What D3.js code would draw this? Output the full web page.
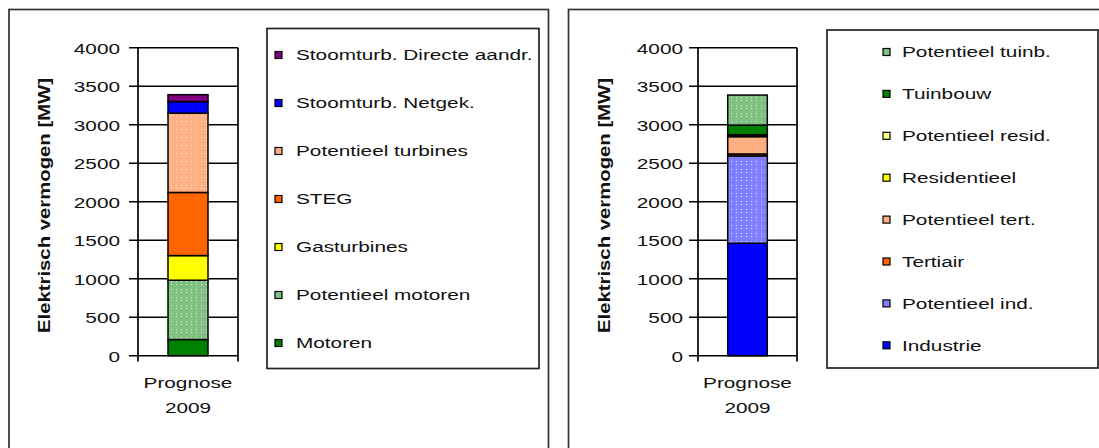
<!DOCTYPE html>
<html>
<head>
<meta charset="utf-8">
<script src="https://cdn.jsdelivr.net/npm/d3@7"></script>
<style>
  html, body { margin: 0; padding: 0; background: #fff; }
  svg { display: block; }
  text { font-family: "Liberation Sans", Arial, sans-serif; fill: #111; }
</style>
</head>
<body>
<svg id="chart" width="1099" height="448"></svg>
<script>
// ---- data ----
const categories = ["Prognose 2009"];
const yTicks = [0, 500, 1000, 1500, 2000, 2500, 3000, 3500, 4000];
const yTitle = "Elektrisch vermogen [MW]";

// left panel: installed capacity per technology (stack order bottom -> top)
const techNames = ["Motoren", "Potentieel motoren", "Gasturbines", "STEG",
                   "Potentieel turbines", "Stoomturb. Netgek.", "Stoomturb. Directe aandr."];
const techValues = [210, 770, 320, 820, 1030, 150, 90];

// right panel: capacity per sector (stack order bottom -> top)
const sectorNames = ["Industrie", "Potentieel ind.", "Tertiair", "Potentieel tert.",
                     "Residentieel", "Potentieel resid.", "Tuinbouw", "Potentieel tuinb."];
const sectorValues = [1460, 1135, 25, 225, 10, 15, 125, 390];

// ---- styling ----
const fills = {
  "Motoren": "#008000",
  "Potentieel motoren": "#80c080",
  "Gasturbines": "#ffff00",
  "STEG": "#ff6600",
  "Potentieel turbines": "#ffb083",
  "Stoomturb. Netgek.": "#0000ff",
  "Stoomturb. Directe aandr.": "#800080",
  "Industrie": "#0000ff",
  "Potentieel ind.": "#8080ff",
  "Tertiair": "#ff6600",
  "Potentieel tert.": "#ffb083",
  "Residentieel": "#ffff00",
  "Potentieel resid.": "#ffff80",
  "Tuinbouw": "#008000",
  "Potentieel tuinb.": "#80c080"
};
const dotted = new Set(["Potentieel motoren", "Potentieel turbines", "Potentieel ind.", "Potentieel tuinb."]);
const SX = 1.34; // horizontal text stretch
const FS = 15.5; // base font size

const svg = d3.select("#chart");
const defs = svg.append("defs");

// dotted fill patterns for the "potential" segments
Object.keys(fills).filter(n => dotted.has(n)).forEach((n, i) => {
  const p = defs.append("pattern")
    .attr("id", "pat" + i)
    .attr("patternUnits", "userSpaceOnUse")
    .attr("width", 5).attr("height", 8);
  p.append("rect").attr("width", 5).attr("height", 8).attr("fill", fills[n]);
  p.append("rect").attr("x", 1).attr("y", 1).attr("width", 1).attr("height", 1).attr("fill", "#fff").attr("opacity", 0.7);
  p.append("rect").attr("x", 1).attr("y", 4).attr("width", 1).attr("height", 1).attr("fill", "#fff").attr("opacity", 0.7);
  fills[n + "__pattern"] = "url(#pat" + i + ")";
});
const fillOf = n => fills[n + "__pattern"] || fills[n];

function stretchedText(g, x, y, str, opts = {}) {
  return g.append("text")
    .attr("transform", `translate(${x},${y}) scale(${opts.sx || SX},1)`)
    .attr("text-anchor", opts.anchor || "start")
    .attr("dominant-baseline", "central")
    .style("font-size", (opts.size || FS) + "px")
    .text(str);
}

function panel(cfg, names, values) {
  const g = svg.append("g");

  // outer frame
  g.append("rect")
    .attr("x", cfg.frameX).attr("y", 9.5)
    .attr("width", cfg.frameW).attr("height", 460)
    .attr("fill", "none").attr("stroke", "#333").attr("stroke-width", 1.7);

  const y = d3.scaleLinear().domain([0, 4000]).range([355.7, 47.7]);
  const x = d3.scaleBand().domain(categories)
    .range([cfg.axisX, cfg.plotRight]).paddingInner(0.6).paddingOuter(0.3);

  // horizontal gridlines with tick marks on the left
  g.append("g").selectAll("line").data(yTicks).join("line")
    .attr("x1", cfg.axisX - 9).attr("x2", cfg.plotRight)
    .attr("y1", d => y(d)).attr("y2", d => y(d))
    .attr("stroke", "#000").attr("stroke-width", 1.5);

  // y axis tick labels
  const axis = g.append("g").attr("transform", `translate(${cfg.axisX},0)`)
    .call(d3.axisLeft(y).tickValues(yTicks).tickFormat(d3.format("d")).tickSize(0).tickPadding(0));
  axis.select(".domain").remove();
  axis.selectAll(".tick text")
    .attr("x", null).attr("dy", null)
    .attr("transform", `translate(${cfg.labelRight - cfg.axisX},0) scale(${SX},1)`)
    .attr("dominant-baseline", "central")
    .style("font-family", "'Liberation Sans', Arial, sans-serif")
    .style("font-size", FS + "px").attr("fill", "#111");

  // stacked bar
  const stackRows = [Object.fromEntries(names.map((n, i) => [n, values[i]]))];
  const series = d3.stack().keys(names)(stackRows);
  g.append("g").selectAll("rect").data(series).join("rect")
    .attr("x", x(categories[0]))
    .attr("width", x.bandwidth())
    .attr("y", d => y(d[0][1]))
    .attr("height", d => y(d[0][0]) - y(d[0][1]))
    .attr("fill", d => fillOf(d.key))
    .attr("stroke", "#000").attr("stroke-width", 1.5);

  // axis frame: left axis and right border, running slightly below zero
  g.append("line").attr("x1", cfg.axisX).attr("x2", cfg.axisX)
    .attr("y1", 47.7).attr("y2", 361.5).attr("stroke", "#000").attr("stroke-width", 1.7);
  g.append("line").attr("x1", cfg.plotRight).attr("x2", cfg.plotRight)
    .attr("y1", 47.7).attr("y2", 361.5).attr("stroke", "#000").attr("stroke-width", 1.7);

  // category label (two lines)
  const cx = x(categories[0]) + x.bandwidth() / 2;
  const parts = categories[0].split(" ");
  stretchedText(g, cx, 383, parts[0], { anchor: "middle" });
  stretchedText(g, cx, 408, parts[1], { anchor: "middle" });

  // y axis title
  g.append("text")
    .attr("transform", `translate(${cfg.titleX},${(78 + 333) / 2}) rotate(-90)`)
    .attr("text-anchor", "middle")
    .attr("dominant-baseline", "central")
    .attr("textLength", 255).attr("lengthAdjust", "spacingAndGlyphs")
    .style("font-size", "16px").style("font-weight", "bold")
    .text(yTitle);

  // legend
  const L = cfg.legend;
  g.append("rect").attr("x", L.x).attr("y", L.y).attr("width", L.w).attr("height", L.h)
    .attr("fill", "#fff").attr("stroke", "#222").attr("stroke-width", 1.7);
  const order = names.slice().reverse();
  order.forEach((n, i) => {
    const cy = L.first + i * L.step;
    g.append("rect").attr("x", L.sw).attr("y", cy - 3.5).attr("width", 7).attr("height", 7)
      .attr("fill", fills[n]).attr("stroke", "#000").attr("stroke-width", 1.2);
    stretchedText(g, L.tx, cy, n);
  });
}

panel({
  frameX: 9, frameW: 539.5, axisX: 138, plotRight: 238, labelRight: 120, titleX: 44,
  legend: { x: 267, y: 28.5, w: 272, h: 340, sw: 275, tx: 296, first: 55, step: 48 }
}, techNames, techValues);

panel({
  frameX: 568.5, frameW: 560, axisX: 698, plotRight: 797, labelRight: 683, titleX: 604,
  legend: { x: 827, y: 30, w: 271, h: 338, sw: 883, tx: 902, first: 52, step: 41.9 }
}, sectorNames, sectorValues);
</script>
</body>
</html>
